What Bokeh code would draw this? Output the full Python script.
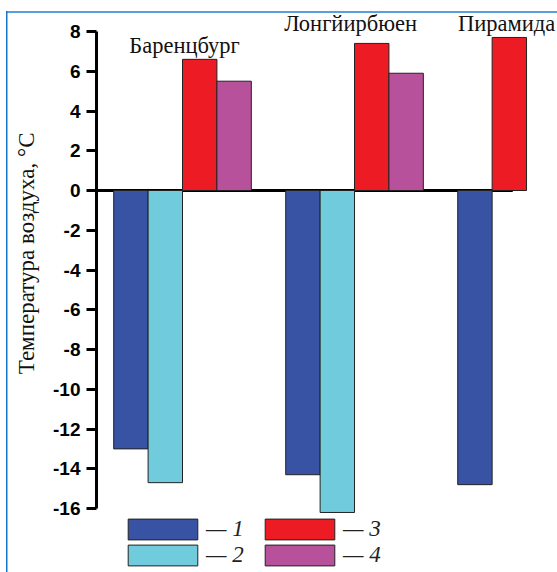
from bokeh.plotting import figure
from bokeh.models import (FixedTicker, Legend, LegendItem, ColumnDataSource,
                          Range1d, Title)
from bokeh.core.properties import value
from bokeh.embed import file_html
from bokeh.resources import INLINE

# ---- data ----
stations = ["Баренцбург", "Лонгйирбюен", "Пирамида"]
series_labels = ["1", "2", "3", "4"]
s1 = [-13.0, -14.3, -14.8]
s2 = [-14.7, -16.2, None]
s3 = [6.6, 7.4, 7.7]
s4 = [5.5, 5.9, None]
y_ticks = [-16, -14, -12, -10, -8, -6, -4, -2, 0, 2, 4, 6, 8]
y_title = "Температура воздуха, °С"

# ---- style ----
colors = ["#3853a4", "#70ccdc", "#ed1c24", "#b7519b"]
bar_w = 0.2
name_dx = [0.012, -0.023, -0.116]
name_y = [7.3, 8.4, 8.4]

p = figure(width=557, height=572, output_backend="svg", toolbar_location=None,
           x_range=Range1d(-0.5, 2.18), y_range=Range1d(-19.22, 9.56),
           x_axis_location=None, min_border_left=96, min_border_right=0,
           min_border_top=0, min_border_bottom=0)
p.grid.visible = False
p.outline_line_color = None
p.background_fill_color = None
p.border_fill_color = None
p.styles = {
    "background-image": "linear-gradient(#1a75c9, #1a75c9), linear-gradient(#5a9fdc, #5a9fdc)",
    "background-size": "1.5px 100%, 100% 2px",
    "background-position": "6px 11px, 6px 11px",
    "background-repeat": "no-repeat",
    "background-color": "white",
}

# zero line
p.segment(x0=[-0.5], x1=[1.92], y0=[0], y1=[0], line_color="black", line_width=3)

# bars: within each station, present series are placed consecutively
all_series = [s1, s2, s3, s4]
renderers = []
for si, vals in enumerate(all_series):
    xs, tops = [], []
    for g in range(len(stations)):
        present = [k for k in range(len(all_series)) if all_series[k][g] is not None]
        if vals[g] is None:
            continue
        slot = present.index(si)
        xs.append(g + (slot - 1.5) * bar_w)
        tops.append(vals[g])
    src = ColumnDataSource(dict(x=xs, top=tops))
    r = p.vbar(x="x", top="top", bottom=0, width=bar_w, source=src,
               fill_color=colors[si], line_color="#222222", line_width=1)
    renderers.append(r)

# station names
p.text(x=[g + d for g, d in zip(range(len(stations)), name_dx)], y=name_y,
       text=stations, text_align="center", text_baseline="middle",
       text_font=value("Liberation Serif"), text_font_size="22.5px",
       text_color="#111111")

ax = p.yaxis[0]
ax.ticker = FixedTicker(ticks=y_ticks)
ax.major_label_overrides = {t: str(t) for t in y_ticks}
ax.bounds = (min(y_ticks), max(y_ticks))
ax.axis_line_width = 3
ax.major_tick_line_width = 3
ax.major_tick_out = 10
ax.major_tick_in = 0
ax.minor_tick_line_color = None
ax.major_label_text_font = "Liberation Sans"
ax.major_label_text_font_style = "bold"
ax.major_label_text_font_size = "19px"
ax.major_label_text_color = "black"
ax.major_label_standoff = 6

# y title in the left panel, positioned from the top of the frame
p.add_layout(Title(text=y_title, align="right", offset=132, vertical_align="top",
                   text_font="Liberation Serif", text_font_style="normal",
                   text_font_size="23px", text_color="#111111", standoff=20),
             "left")

legend = Legend(items=[LegendItem(label="— " + lab, renderers=[r])
                       for lab, r in zip(series_labels, renderers)],
                nrows=2, orientation="vertical", location=(23, 4),
                glyph_width=87, glyph_height=26, label_standoff=0,
                label_width=50, label_height=21, spacing=0, padding=0, margin=0,
                label_text_font="Liberation Serif", label_text_font_style="italic",
                label_text_font_size="23px", label_text_color="#222222",
                background_fill_alpha=0, border_line_alpha=0)
p.add_layout(legend, "center")

open("out.html", "w").write(file_html(p, INLINE))
